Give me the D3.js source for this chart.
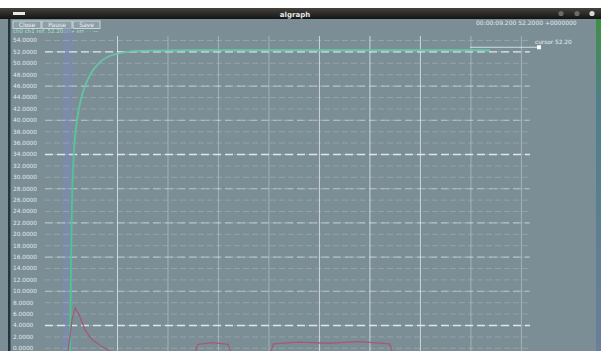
<!DOCTYPE html>
<html>
<head>
<meta charset="utf-8">
<script src="https://cdn.jsdelivr.net/npm/d3@7"></script>
<style>
  body { margin: 0; background: #ffffff; }
  svg { display: block; font-family: "DejaVu Sans", sans-serif; }
</style>
</head>
<body>
<svg id="chart" width="601" height="351"></svg>
<script>
// ---- data ----------------------------------------------------------------
const yTicks = d3.range(0, 56, 2);                  // 0 … 54, one label per row
const yMajorTicks = [46, 40, 28, 22, 16, 10];        // medium dashed rows
const yKeyTicks = [52, 34, 4];                       // brightest dashed rows
const xTicks = [1, 2, 3, 4, 5, 6, 7, 8, 9];          // seconds

// rising response (green)
const riseT = [0.06, 0.07, 0.09, 0.11, 0.15, 0.21, 0.31, 0.47, 0.66, 0.96, 1.46, 2.64, 5.0, 8.39];
const riseV = [-2.0, -0.6, 15.4, 25.9, 34.7, 40.0, 44.4, 47.9, 50.1, 51.5, 52.1, 52.2, 52.2, 52.2];

// transient error (red)
const errT = [0.03, 0.11, 0.17, 0.25, 0.37, 0.51, 0.66, 0.86, 1.2, 2.5, 2.6, 2.9, 3.2, 3.3, 4.0, 4.1, 4.6, 5.2, 5.8, 6.4, 6.5];
const errV = [-0.6, 4.9, 7.0, 5.8, 3.1, 1.4, 0.5, -0.6, -2.0, -2.0, 0.6, 0.9, 0.6, -2.0, -2.0, 0.7, 1.0, 0.8, 1.1, 0.7, -2.0];

// ---- layout --------------------------------------------------------------
const svg = d3.select("#chart");
const W = 601, H = 351;
const plot = { left: 45, right: 530, top: 36, bottom: 351 };

const x = d3.scaleLinear().domain([0, 9.2]).range([66.5, 531]);
const y = d3.scaleLinear().domain([0, 54]).range([347.8, 40]);

const defs = svg.append("defs");

// window background
svg.append("rect").attr("width", W).attr("height", H).attr("fill", "#ffffff");
svg.append("rect").attr("x", 0).attr("y", 19).attr("width", W).attr("height", H - 19).attr("fill", "#7b8e96");

// title bar
const grad = defs.append("linearGradient").attr("id", "tb").attr("x1", 0).attr("y1", 0).attr("x2", 0).attr("y2", 1);
grad.append("stop").attr("offset", 0).attr("stop-color", "#46423d");
grad.append("stop").attr("offset", 1).attr("stop-color", "#121414");
svg.append("rect").attr("x", 0).attr("y", 8).attr("width", W).attr("height", 11).attr("fill", "url(#tb)");
svg.append("rect").attr("x", 13).attr("y", 12).attr("width", 12).attr("height", 3).attr("fill", "#e8e8e8");
svg.append("text").attr("x", 295).attr("y", 16.5).attr("text-anchor", "middle")
  .attr("font-size", 7).attr("font-weight", "bold").attr("fill", "#e8e8e8").text("algraph");
[561, 577, 592].forEach((cx, i) => {
  svg.append("circle").attr("cx", cx).attr("cy", 13.5).attr("r", 2.6)
    .attr("fill", i === 2 ? "#d8d8d8" : "#6b6b6b");
});

// window edges
const eg = defs.append("linearGradient").attr("id", "edge").attr("x1", 0).attr("y1", 0).attr("x2", 0).attr("y2", 1);
eg.append("stop").attr("offset", 0).attr("stop-color", "#3f8f45");
eg.append("stop").attr("offset", 0.25).attr("stop-color", "#4f7f8a");
eg.append("stop").attr("offset", 1).attr("stop-color", "#6a7f9a");
svg.append("rect").attr("x", 596).attr("y", 19).attr("width", 5).attr("height", H - 19).attr("fill", "url(#edge)");
svg.append("rect").attr("x", 8).attr("y", 19).attr("width", 2.5).attr("height", H - 19).attr("fill", "#24343a");

// toolbar
const buttons = [{ label: "Close", x: 13, w: 28 }, { label: "Pause", x: 42, w: 30 }, { label: "Save", x: 73, w: 27 }];
buttons.forEach(b => {
  svg.append("rect").attr("x", b.x).attr("y", 21).attr("width", b.w).attr("height", 7.5)
    .attr("fill", "#8c9ea6").attr("stroke", "#dde6e9").attr("stroke-width", 0.8);
  svg.append("text").attr("x", b.x + b.w / 2).attr("y", 27).attr("text-anchor", "middle")
    .attr("font-size", 6).attr("fill", "#eef4f6").text(b.label);
});
svg.append("text").attr("x", 13).attr("y", 33).attr("font-size", 5.5).attr("fill", "#a8e0c0")
  .text("ch0  ch1    ref: 52.2000 ▸ err   · ·  —");
svg.append("text").attr("x", 476).attr("y", 25).attr("font-size", 6).attr("fill", "#e2eaec")
  .text("00:00:09.200  52.2000  +0000000");

// blue marker band at t≈0
svg.append("rect").attr("x", 63).attr("y", 28).attr("width", 10).attr("height", H - 28)
  .attr("fill", "#7e8ab8").attr("opacity", 0.55);

// ---- grid ----------------------------------------------------------------
function rows(values, opacity, width, dash) {
  svg.append("g").attr("transform", `translate(${plot.left},0)`)
    .call(d3.axisRight(y).tickValues(values).tickSize(plot.right - plot.left).tickFormat(""))
    .call(g => g.select(".domain").remove())
    .call(g => g.selectAll("line").attr("stroke", "#eef4f6").attr("stroke-opacity", opacity)
      .attr("stroke-dasharray", dash).attr("stroke-width", width));
}
rows(yTicks, 0.25, 0.8, "6,3");
rows(yMajorTicks, 0.45, 1.1, "8,4");
rows(yKeyTicks, 0.85, 1.4, "8,4");

// vertical time lines
svg.append("g").attr("transform", `translate(0,${plot.top})`)
  .call(d3.axisBottom(x).tickValues(xTicks).tickSize(plot.bottom - plot.top).tickFormat(""))
  .call(g => g.select(".domain").remove())
  .call(g => g.selectAll("line").attr("stroke", "#eef4f6")
    .attr("stroke-opacity", (d) => (d === 1 || d === 5 || d === 6 || d === 7) ? 0.7 : 0.35).attr("stroke-width", 1));

// y labels
svg.append("g").attr("transform", "translate(13,0)")
  .call(d3.axisRight(y).tickValues(yTicks).tickSize(0).tickPadding(0).tickFormat(d3.format(".4f")))
  .call(g => g.select(".domain").remove())
  .call(g => g.selectAll("text").attr("font-size", 5.8).attr("fill", "#e0e9ec")
    .attr("font-family", "DejaVu Sans, sans-serif"));

// ---- series --------------------------------------------------------------
defs.append("clipPath").attr("id", "clip")
  .append("rect").attr("x", plot.left).attr("y", plot.top).attr("width", plot.right - plot.left).attr("height", plot.bottom - plot.top);

// green trace: brighter low down, paler teal along the plateau
const gg = defs.append("linearGradient").attr("id", "greenTrace").attr("gradientUnits", "userSpaceOnUse")
  .attr("x1", 0).attr("y1", y(0)).attr("x2", 0).attr("y2", y(54));
gg.append("stop").attr("offset", 0).attr("stop-color", "#3fd080");
gg.append("stop").attr("offset", 0.55).attr("stop-color", "#4fc590");
gg.append("stop").attr("offset", 1).attr("stop-color", "#6cc4a8");

const line = d3.line().x(d => x(d[0])).y(d => y(d[1])).curve(d3.curveMonotoneX);
const series = svg.append("g").attr("clip-path", "url(#clip)");

series.append("path").datum(riseT.map((t, i) => [t, riseV[i]]))
  .attr("d", line).attr("fill", "none").attr("stroke", "url(#greenTrace)").attr("stroke-width", 1.8);

series.append("path").datum(errT.map((t, i) => [t, errV[i]]))
  .attr("d", d3.line().x(d => x(d[0])).y(d => y(d[1]))).attr("fill", "none")
  .attr("stroke", "#a65878").attr("stroke-width", 1.3);

// cursor readout
svg.append("line").attr("x1", 470).attr("x2", 537).attr("y1", y(52.2) - 3).attr("y2", y(52.2) - 3)
  .attr("stroke", "#e8f0f2").attr("stroke-width", 0.8);
svg.append("rect").attr("x", 537).attr("y", y(52.2) - 5).attr("width", 4).attr("height", 4).attr("fill", "#ffffff");
svg.append("text").attr("x", 535).attr("y", 44).attr("font-size", 5.8).attr("fill", "#e8f0f2").text("cursor  52.20");
</script>
</body>
</html>
